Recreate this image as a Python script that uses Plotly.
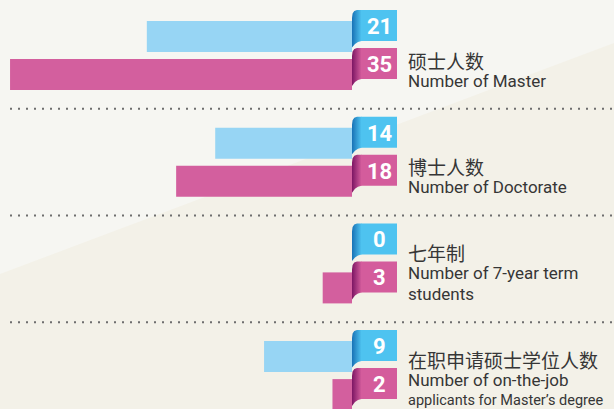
import plotly.graph_objects as go

# data
labels_cn = ["硕士人数", "博士人数", "七年制", "在职申请硕士学位人数"]
labels_en = [
    ["Number of Master"],
    ["Number of Doctorate"],
    ["Number of 7-year term", "students"],
    ["Number of on-the-job", "applicants for Master’s degree"],
]
blue_values = [21, 14, 0, 9]
pink_values = [35, 18, 3, 2]

BLUE_BAR = "#97D5F4"
BLUE_TAB = "#4EC3F0"
BLUE_DARK = "#1872B6"
PINK_BAR = "#D35F9E"
PINK_TAB = "#D45C9C"
PINK_DARK = "#7C1664"
TEXT = "#363636"
BG = "#F3F1E8"
NARROW = "Liberation Sans Narrow, Arial Narrow, Roboto, sans-serif"

W, H = 614, 409
PX_X = 9.77      # pixels per unit of value
PX_Y = 106.7     # pixels per category
X0_PX = 352      # pixel where value 0 sits
C0_PX = 55.5     # pixel centre of first category

cat_pos = list(range(len(labels_cn)))


def dy(px):
    return px / PX_Y


def dx(px):
    # positive px moves right, axis is reversed
    return -px / PX_X


fig = go.Figure()

fig.add_trace(go.Bar(
    x=blue_values, y=cat_pos, orientation="h",
    width=dy(31), offset=dy(-34.5),
    marker=dict(color=BLUE_BAR, line=dict(width=0)),
    hoverinfo="skip", showlegend=False,
))
fig.add_trace(go.Bar(
    x=pink_values, y=cat_pos, orientation="h",
    width=dy(31), offset=dy(3.5),
    marker=dict(color=PINK_BAR, line=dict(width=0)),
    hoverinfo="skip", showlegend=False,
))


def ribbon(c, top, bottom, fold_bottom, tab_col, dark_col, value):
    # flat face of the tab
    fig.add_shape(type="rect", xref="x", yref="y",
                  x0=dx(9), x1=dx(45), y0=c + dy(top), y1=c + dy(bottom),
                  fillcolor=tab_col, line=dict(width=0), layer="above")
    # folded part, dark to light
    xs = [dx(0), dx(0.6), dx(2.3), dx(5), dx(9.5), dx(9.5), dx(6), dx(3), dx(0), dx(0)]
    ys = [c + dy(top + 8), c + dy(top + 3.5), c + dy(top + 1), c + dy(top),
          c + dy(top), c + dy(bottom), c + dy(bottom + 1), c + dy(bottom + 3),
          c + dy(fold_bottom), c + dy(top + 8)]
    fig.add_trace(go.Scatter(
        x=xs, y=ys, mode="lines", fill="toself", line=dict(width=0),
        fillgradient=dict(type="horizontal",
                          colorscale=[[0, dark_col], [1, tab_col]]),
        hoverinfo="skip", showlegend=False,
    ))
    fig.add_annotation(x=dx(27.5), y=c + dy((top + bottom) / 2 + 1),
                       text=f"<b>{value}</b>", showarrow=False,
                       font=dict(family=NARROW, size=22, color="white"))


for i, c in enumerate(cat_pos):
    ribbon(c, -45.5, -14.5, -8, BLUE_TAB, BLUE_DARK, blue_values[i])
    ribbon(c, -7.5, 23.5, 30.5, PINK_TAB, PINK_DARK, pink_values[i])

    # labels, stacked from the bottom line upward
    lines = [(labels_cn[i], "cn")] + [(t, "en") for t in labels_en[i]]
    n = len(lines)
    for k, (t, kind) in enumerate(lines):
        off = 25 - (n - 1 - k) * 20.5
        if kind == "cn":
            f = dict(family="Noto Sans CJK SC", size=19, color=TEXT)
        else:
            # long lines squeezed a little so they still fit the right edge
            f = dict(family=NARROW, size=17 if len(t) < 25 else 14.5, color=TEXT)
        fig.add_annotation(x=dx(54), y=c + dy(off), text=t, showarrow=False,
                           xanchor="left", yanchor="middle", font=f)

# dotted separators between groups
for c in cat_pos[:-1]:
    fig.add_shape(type="line", xref="paper", yref="y",
                  x0=10 / W, x1=1, y0=c + 0.5, y1=c + 0.5,
                  line=dict(color="#6E6E6E", width=2, dash="2px,6px"))

# faint lighter wash on the upper-left of the background
fig.add_shape(type="path", xref="paper", yref="paper", layer="below",
              path="M 0 1 L 1 1 L 1 0.895 L 0 0.33 Z",
              fillcolor="#F6F6F2", line=dict(width=0))

fig.update_xaxes(range=[X0_PX / PX_X, -(W - X0_PX) / PX_X], visible=False, fixedrange=True)
fig.update_yaxes(range=[(H - C0_PX) / PX_Y, -C0_PX / PX_Y], visible=False, fixedrange=True)
fig.update_layout(
    width=W, height=H,
    margin=dict(l=0, r=0, t=0, b=0),
    paper_bgcolor=BG, plot_bgcolor="rgba(0,0,0,0)",
    barmode="overlay",
)

fig.write_html("out.html", config={"displayModeBar": False},
               post_script="document.body.style.margin='0';")
